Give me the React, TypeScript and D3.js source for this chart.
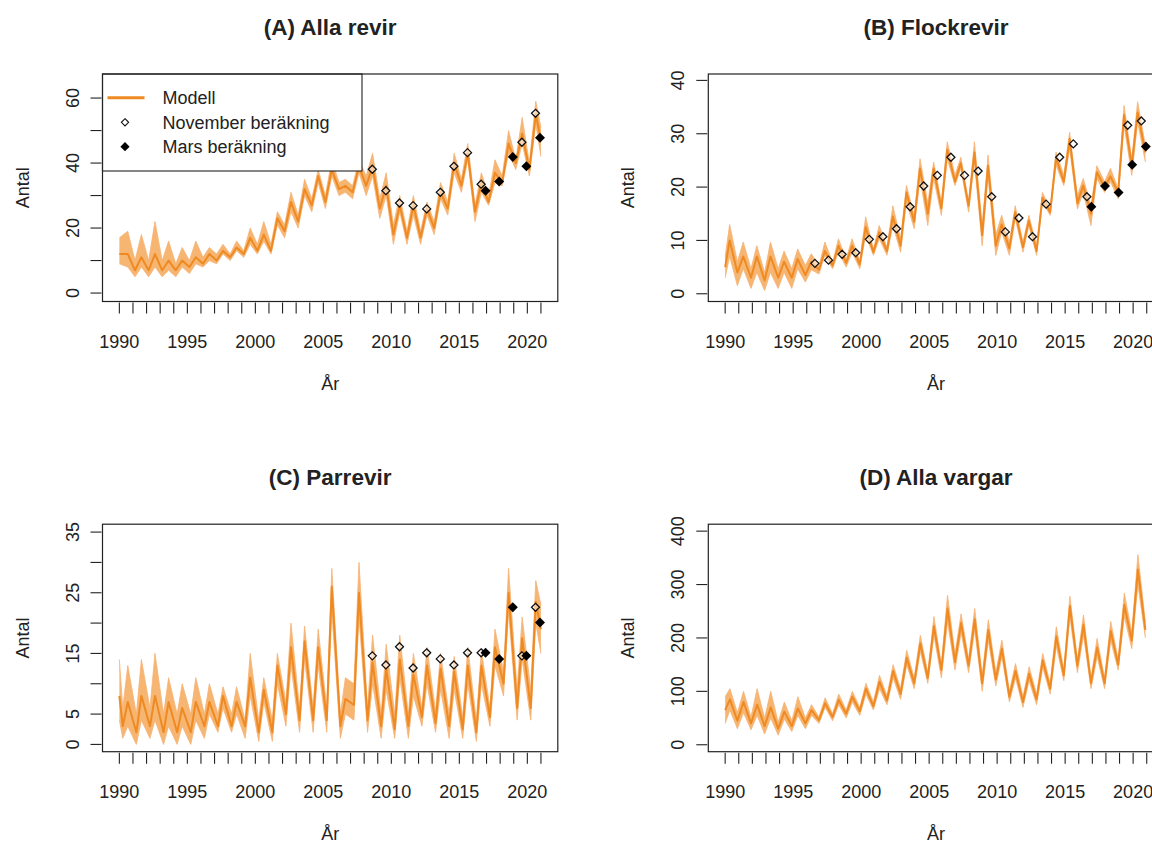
import React from 'react';
import * as d3 from 'd3';

const FONT = '"Liberation Sans", Arial, Helvetica, sans-serif';
const ORANGE = '#EF8A22';
const INK = '#222';

const yearTicks = d3.range(1990, 2022);
const yearLabels = [1990, 1995, 2000, 2005, 2010, 2015, 2020];

// Model time steps: a start value in 1990, then two seasonal extremes per year.
function seasonTimes(p1: number, p2: number, end?: number): number[] {
  const t = [1990];
  for (let y = 1990; y <= 2020; y++) {
    t.push(y + p1);
    if (end === undefined || y + p2 < end) t.push(y + p2);
  }
  if (end !== undefined) t.push(end);
  return t;
}

// (A) Alla revir: ensemble envelope (lo / central / hi)
const aTimes = seasonTimes(0.62, 1.15, 2021);
const aLo = [9, 8, 5, 8, 5, 8, 5, 7, 5, 8, 6, 9, 8, 10, 9, 12, 10, 13, 11, 15, 12, 16, 12, 21, 17, 25, 20, 30, 25, 34, 26, 36, 30, 31, 29, 37, 30, 36, 23, 30, 15, 25, 15, 24, 15, 24, 18, 29, 24, 37, 31, 41, 22, 31, 27, 34, 33, 43, 38, 46, 36, 52, 42];
const aMid = [12, 12, 7, 11, 7, 12, 7, 10, 7, 10, 8, 11, 9, 12, 10, 13, 11, 14, 12, 17, 13, 18, 13, 23, 19, 28, 22, 32, 27, 36, 28, 38, 32, 33, 31, 39, 33, 39, 26, 33, 18, 27, 17, 27, 17, 26, 20, 31, 26, 40, 33, 43, 25, 34, 28, 37, 34, 46, 40, 49, 38, 55, 47];
const aHi = [17, 19, 10, 18, 10, 22, 10, 16, 9, 14, 10, 16, 11, 14, 12, 15, 12, 16, 13, 20, 15, 22, 15, 25, 21, 31, 24, 35, 29, 38, 30, 41, 34, 35, 33, 41, 36, 43, 29, 37, 21, 30, 19, 30, 19, 28, 22, 34, 28, 43, 35, 46, 27, 37, 30, 41, 36, 50, 41, 54, 40, 59, 51];
const aNovYears = [2008, 2009, 2010, 2011, 2012, 2013, 2014, 2015, 2016, 2019, 2020];
const aNov = [38.1, 31.5, 27.7, 26.9, 25.9, 31.0, 39.0, 43.2, 33.5, 46.4, 55.3];
const aMarsYears = [2016, 2017, 2018, 2019, 2020];
const aMars = [31.5, 34.3, 41.9, 39.0, 47.8];

// (B) Flockrevir
const bTimes = seasonTimes(0.33, 0.9);
const bLo = [3, 7, 1.5, 4.7, 1, 4, 0.6, 4, 1, 4, 1, 4.7, 2.2, 4.5, 3.7, 7.2, 4.7, 7.8, 5, 7.8, 4.7, 11, 7.2, 10.3, 7.2, 12.8, 7.8, 17.2, 12.2, 21.6, 12.8, 21.6, 14.7, 25.3, 20.3, 23.5, 15.3, 24.7, 9, 22, 7.2, 11.6, 7.2, 14.1, 7.8, 12.8, 7.2, 17.2, 14.7, 24.1, 20.3, 27.2, 15.9, 19, 12.8, 21.6, 19, 21, 17.8, 31.6, 22.2, 32.2, 24.7];
const bMid = [5, 10, 4, 7, 3, 7, 2.5, 7, 3, 6, 3, 6.5, 3.5, 6, 4.5, 8, 5.3, 9, 5.8, 9, 5.5, 12.5, 7.8, 11.5, 8, 14.5, 9, 19, 13.5, 23.5, 15, 23.5, 16, 27, 21, 24.5, 16.5, 26.5, 11, 24, 9, 13, 8.5, 15.3, 8.7, 13.7, 8, 18, 15.3, 25.5, 21, 29, 17, 20.3, 15, 22.8, 20, 22, 19, 33.5, 24, 34, 26.5];
const bHi = [7, 13, 6, 9.7, 4.7, 9, 4, 9.7, 4.7, 8, 4.7, 8.4, 5.3, 7.5, 5.3, 9.7, 5.9, 10.3, 6.5, 10.3, 6.2, 14.4, 8.4, 12.8, 8.7, 16.5, 10.3, 20.3, 14.7, 25.3, 17, 24.7, 17.2, 28.5, 22.2, 25.6, 17.2, 28.5, 12.8, 26, 11, 14.7, 9.7, 16.5, 9.7, 14.7, 9, 19, 15.9, 26.6, 22.2, 30.3, 18.4, 21.6, 16.5, 24, 21, 23.5, 19.7, 35.3, 25.3, 36, 27.8];
const bNovYears = [1996, 1997, 1998, 1999, 2000, 2001, 2002, 2003, 2004, 2005, 2006, 2007, 2008, 2009, 2010, 2011, 2012, 2013, 2014, 2015, 2016, 2019, 2020];
const bNov = [5.7, 6.3, 7.4, 7.7, 10.2, 10.7, 12.2, 16.3, 20.2, 22.2, 25.6, 22.2, 23.0, 18.2, 11.6, 14.2, 10.7, 16.8, 25.6, 28.1, 18.2, 31.6, 32.4];
const bMarsYears = [2016, 2017, 2018, 2019, 2020];
const bMars = [16.3, 20.2, 19.0, 24.2, 27.6];

// (C) Parrevir
const cTimes = seasonTimes(0.25, 0.62, 2021);
const cLo = [4, 1, 3, 0, 4, 1, 4, 0, 3, 0, 3, 0, 4, 1, 5, 2, 6, 2, 5, 1, 8, 0.5, 7, 0.5, 10, 3, 13, 2, 14, 2, 13, 2, 22, 1, 5, 4, 21, 2, 10, 1, 9, 1, 11, 1, 8, 3, 10, 2, 9, 1, 9, 1, 10, 0.5, 10, 3, 13, 8, 22, 4, 14, 4, 20, 15];
const cMid = [8, 3, 7, 2, 8, 3, 8, 2, 7, 2, 6, 2, 7, 3, 7, 3, 8, 3, 7, 3, 11, 2, 9, 2, 13, 5, 16, 4, 17, 4, 16, 4, 26, 3, 7.5, 6.5, 25, 4, 13.5, 3, 12.5, 2.5, 14, 3, 11.5, 4.5, 13, 3.5, 12.5, 3, 12, 2.5, 13, 2, 13, 4.5, 16, 10, 25, 6, 17.5, 6, 23.5, 19];
const cHi = [14, 6, 13, 5, 14, 6, 15, 5, 11, 5, 10, 5, 11, 5, 10, 5, 9.5, 5, 9.5, 4, 15, 4, 11, 4, 15, 7, 20, 6, 19.5, 6, 19, 6, 29, 5, 11, 10, 30, 6, 18, 5, 16.5, 5, 18, 5, 15, 6, 16, 5.5, 15, 5, 14.5, 4.5, 16, 4, 15.5, 6, 19, 12, 29, 9, 21, 9, 27, 23];
const cNovYears = [2008, 2009, 2010, 2011, 2012, 2013, 2014, 2015, 2016, 2019, 2020];
const cNov = [14.6, 13.1, 16.1, 12.6, 15.1, 14.1, 13.1, 15.1, 15.1, 14.6, 22.6];
const cMarsYears = [2016, 2017, 2018, 2019, 2020];
const cMars = [15.1, 14.1, 22.6, 14.6, 20.1];

// (D) Alla vargar
const dTimes = seasonTimes(0.35, 0.9);
const dLo = [40, 65, 30, 60, 28, 55, 20, 50, 18, 48, 25, 55, 30, 55, 40, 70, 45, 75, 50, 80, 55, 95, 65, 105, 75, 125, 85, 150, 105, 175, 115, 205, 125, 230, 140, 210, 135, 215, 100, 195, 110, 165, 80, 125, 70, 120, 75, 145, 95, 185, 120, 240, 135, 205, 105, 165, 105, 195, 140, 240, 180, 300, 200];
const dMid = [65, 85, 45, 80, 40, 75, 35, 70, 30, 62, 35, 68, 40, 65, 46, 78, 52, 84, 58, 90, 63, 105, 72, 118, 83, 138, 95, 163, 115, 190, 125, 222, 140, 255, 155, 228, 148, 235, 115, 215, 122, 180, 90, 138, 80, 133, 85, 158, 105, 203, 130, 260, 148, 225, 115, 182, 115, 213, 150, 262, 195, 328, 215];
const dHi = [90, 105, 60, 100, 52, 105, 50, 100, 42, 80, 45, 90, 50, 75, 52, 88, 58, 95, 65, 100, 70, 115, 80, 130, 92, 150, 105, 177, 125, 205, 135, 240, 150, 280, 170, 245, 160, 255, 130, 234, 135, 196, 100, 152, 90, 146, 95, 171, 115, 221, 140, 278, 160, 243, 125, 199, 125, 231, 160, 284, 210, 356, 230];

const BOX_W = 455.3;
const BOX_H = 227.5;
const NOV_OFFSET = 0.6;
const MARS_OFFSET = 0.93;

type Panel = {
  title: string;
  left: number;
  top: number;
  yDomain: [number, number];
  yTicks: number[];
  yLabels: number[];
  times: number[];
  lo: number[];
  mid: number[];
  hi: number[];
  novYears?: number[];
  nov?: number[];
  marsYears?: number[];
  mars?: number[];
  legend?: boolean;
};

const panels: Panel[] = [
  {
    title: '(A) Alla revir', left: 102.5, top: 74, yDomain: [-2.6, 67.4],
    yTicks: d3.range(0, 61, 10), yLabels: [0, 20, 40, 60],
    times: aTimes, lo: aLo, mid: aMid, hi: aHi,
    novYears: aNovYears, nov: aNov, marsYears: aMarsYears, mars: aMars, legend: true,
  },
  {
    title: '(B) Flockrevir', left: 708.3, top: 74, yDomain: [-1.45, 41.2],
    yTicks: d3.range(0, 41, 10), yLabels: [0, 10, 20, 30, 40],
    times: bTimes, lo: bLo, mid: bMid, hi: bHi,
    novYears: bNovYears, nov: bNov, marsYears: bMarsYears, mars: bMars,
  },
  {
    title: '(C) Parrevir', left: 102.5, top: 524.2, yDomain: [-1.2, 36.3],
    yTicks: d3.range(0, 36, 5), yLabels: [0, 5, 15, 25, 35],
    times: cTimes, lo: cLo, mid: cMid, hi: cHi,
    novYears: cNovYears, nov: cNov, marsYears: cMarsYears, mars: cMars,
  },
  {
    title: '(D) Alla vargar', left: 708.3, top: 524.2, yDomain: [-13, 413],
    yTicks: d3.range(0, 401, 100), yLabels: [0, 100, 200, 300, 400],
    times: dTimes, lo: dLo, mid: dMid, hi: dHi,
  },
];

const diamond = (r: number) => `M0,${-r}L${r},0L0,${r}L${-r},0Z`;

function PanelView({ p, idx }: { p: Panel; idx: number }) {
  const x = d3.scaleLinear().domain([1990 - 0.04 * 31, 2021 + 0.04 * 31]).range([p.left, p.left + BOX_W]);
  const y = d3.scaleLinear().domain(p.yDomain).range([p.top + BOX_H, p.top]);
  const rows = p.times.map((t, i) => ({ t, lo: p.lo[i], mid: p.mid[i], hi: p.hi[i] }));
  const band = d3.area<typeof rows[0]>().x(d => x(d.t)).y0(d => y(d.lo)).y1(d => y(d.hi));
  const line = (key: 'lo' | 'mid' | 'hi') => d3.line<typeof rows[0]>().x(d => x(d.t)).y(d => y(d[key]))(rows) || '';
  const bottom = p.top + BOX_H;
  const cx = p.left + BOX_W / 2;
  const cy = p.top + BOX_H / 2;
  const clipId = `clip-${idx}`;

  return (
    <g>
      <defs>
        <clipPath id={clipId}>
          <rect x={p.left} y={p.top} width={BOX_W} height={BOX_H} />
        </clipPath>
      </defs>
      <g clipPath={`url(#${clipId})`}>
        <path d={band(rows) || ''} fill="#F39A3C" fillOpacity={0.72} stroke="none" />
        <path d={line('lo')} fill="none" stroke="#F6B274" strokeOpacity={0.8} strokeWidth={1} />
        <path d={line('hi')} fill="none" stroke="#F6B274" strokeOpacity={0.8} strokeWidth={1} />
        <path d={line('mid')} fill="none" stroke={ORANGE} strokeWidth={2} strokeLinejoin="round" />
      </g>

      {p.legend && (
        <g fontFamily={FONT} fontSize={18} fill={INK}>
          <rect x={p.left} y={p.top} width={259.5} height={97} fill="#fff" stroke={INK} strokeWidth={1.1} />
          <line x1={p.left + 5} x2={p.left + 42} y1={p.top + 23.7} y2={p.top + 23.7} stroke={ORANGE} strokeWidth={3} />
          <text x={p.left + 60} y={p.top + 30}>Modell</text>
          <path d={diamond(3.6)} transform={`translate(${p.left + 22.5},${p.top + 48.3})`} fill="#fff" stroke="#111" strokeWidth={1.1} />
          <text x={p.left + 60} y={p.top + 54.5}>November beräkning</text>
          <path d={diamond(4.6)} transform={`translate(${p.left + 22.5},${p.top + 72.7})`} fill="#000" />
          <text x={p.left + 60} y={p.top + 79}>Mars beräkning</text>
        </g>
      )}

      {p.novYears && p.nov && p.novYears.map((yr, i) => (
        <path key={`n${i}`} d={diamond(4)} transform={`translate(${x(yr + NOV_OFFSET)},${y(p.nov![i])})`}
          fill="#fff" fillOpacity={0.55} stroke="#111" strokeWidth={1.3} />
      ))}
      {p.marsYears && p.mars && p.marsYears.map((yr, i) => (
        <path key={`m${i}`} d={diamond(5)} transform={`translate(${x(yr + MARS_OFFSET)},${y(p.mars![i])})`} fill="#000" />
      ))}

      <rect x={p.left} y={p.top} width={BOX_W} height={BOX_H} fill="none" stroke={INK} strokeWidth={1.2} />

      {/* x axis */}
      <g stroke={INK} strokeWidth={1.1}>
        {yearTicks.map(t => (
          <line key={t} x1={x(t)} x2={x(t)} y1={bottom + 1} y2={bottom + 12} />
        ))}
      </g>
      <g fontFamily={FONT} fontSize={18} fill={INK} textAnchor="middle">
        {yearLabels.map(t => (
          <text key={t} x={x(t)} y={bottom + 46}>{t}</text>
        ))}
        <text x={cx} y={bottom + 88}>År</text>
      </g>

      {/* y axis */}
      <g stroke={INK} strokeWidth={1.1}>
        {p.yTicks.map(v => (
          <line key={v} x1={p.left - 12} x2={p.left - 1} y1={y(v)} y2={y(v)} />
        ))}
      </g>
      <g fontFamily={FONT} fontSize={18} fill={INK} textAnchor="middle">
        {p.yLabels.map(v => (
          <text key={v} transform={`translate(${p.left - 24},${y(v)}) rotate(-90)`}>{v}</text>
        ))}
        <text transform={`translate(${p.left - 74},${cy}) rotate(-90)`}>Antal</text>
      </g>

      <text x={cx} y={p.top - 39} fontFamily={FONT} fontSize={22.5} fontWeight="bold" fill={INK} textAnchor="middle">
        {p.title}
      </text>
    </g>
  );
}

export default function App() {
  return (
    <svg width={1152} height={845} viewBox="0 0 1152 845"
      style={{ position: 'absolute', left: 0, top: 0, background: '#fff' }}>
      <rect x={0} y={0} width={1152} height={845} fill="#fff" />
      {panels.map((p, i) => <PanelView key={p.title} p={p} idx={i} />)}
    </svg>
  );
}
